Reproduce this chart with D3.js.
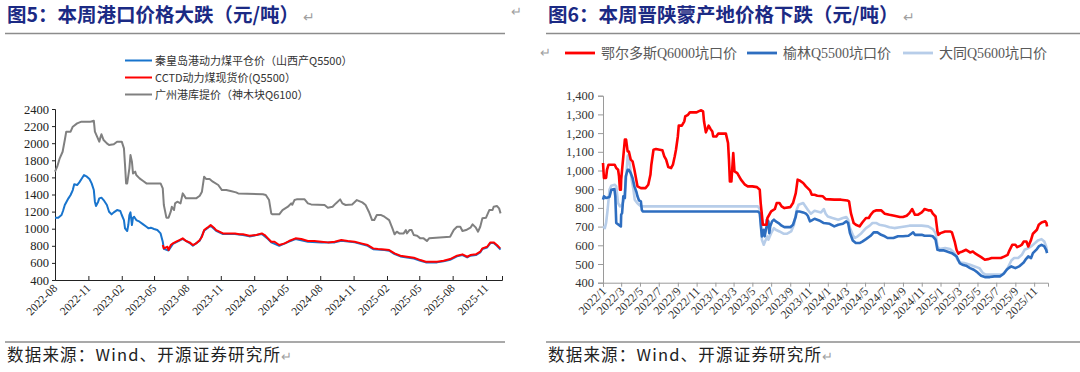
<!DOCTYPE html>
<html>
<head>
<meta charset="utf-8">
<script src="https://cdn.jsdelivr.net/npm/d3@7/dist/d3.min.js"></script>
<style>
body { margin: 0; background: #fff; }
</style>
</head>
<body>
<svg id="chart" width="1080" height="372"></svg>
<script>
// ---- 图5 数据 ----
var portTicks = ["2022-08","2022-11","2023-02","2023-05","2023-08","2023-11","2024-02","2024-05","2024-08","2024-11","2025-02","2025-05","2025-08","2025-11"];
var portYTicks = [400,600,800,1000,1200,1400,1600,1800,2000,2200,2400];
var portNames = ["秦皇岛港动力煤平仓价（山西产Q5500）", "CCTD动力煤现货价(Q5500）", "广州港库提价（神木块Q6100）"];

var guangzhou = [
  ["2022-08-01",1667],["2022-08-07",1725],["2022-08-14",1823],["2022-08-22",1900],["2022-08-28",2037],["2022-09-01",2135],
  ["2022-09-13",2135],["2022-09-19",2193],["2022-10-01",2232],["2022-10-13",2252],["2022-11-07",2252],["2022-11-16",2263],
  ["2022-11-19",2135],["2022-11-25",2076],["2022-12-01",2018],["2022-12-04",2065],["2022-12-07",2104],["2022-12-13",2037],
  ["2022-12-22",1998],["2022-12-28",1979],["2023-01-10",1987],["2023-01-19",2018],["2023-02-01",2018],["2023-02-07",1940],
  ["2023-02-10",1745],["2023-02-13",1530],["2023-02-16",1530],["2023-02-22",1706],["2023-02-25",1862],["2023-03-01",1784],
  ["2023-03-04",1647],["2023-03-10",1667],["2023-03-13",1628],["2023-03-22",1589],["2023-04-01",1558],["2023-04-10",1530],
  ["2023-05-19",1530],["2023-05-25",1472],["2023-05-28",1277],["2023-06-04",1129],["2023-06-10",1129],["2023-06-16",1199],
  ["2023-06-19",1257],["2023-06-25",1218],["2023-06-28",1296],["2023-07-04",1316],["2023-07-13",1296],["2023-07-19",1413],
  ["2023-07-28",1355],["2023-08-25",1355],["2023-09-04",1386],["2023-09-10",1433],["2023-09-16",1608],["2023-09-22",1580],
  ["2023-10-01",1581],["2023-10-10",1550],["2023-10-25",1511],["2023-11-04",1452],["2023-11-16",1452],["2023-11-28",1440],
  ["2023-12-13",1425],["2023-12-19",1413],["2024-02-25",1402],["2024-03-04",1394],["2024-03-13",1335],["2024-03-19",1179],
  ["2024-03-22",1168],["2024-04-10",1168],["2024-04-19",1218],["2024-05-04",1257],["2024-05-13",1296],["2024-05-16",1280],
  ["2024-05-22",1335],["2024-05-28",1343],["2024-06-19",1343],["2024-06-28",1296],["2024-07-07",1284],["2024-08-13",1277],
  ["2024-08-22",1246],["2024-09-04",1257],["2024-09-13",1296],["2024-09-25",1343],["2024-10-01",1296],["2024-10-10",1277],
  ["2024-10-28",1284],["2024-11-10",1335],["2024-11-25",1308],["2024-12-04",1277],["2024-12-13",1199],["2024-12-22",1101],
  ["2024-12-28",1101],["2025-01-04",1160],["2025-01-16",1160],["2025-01-25",1140],["2025-02-07",1101],["2025-02-16",1004],
  ["2025-02-22",934],["2025-02-28",965],["2025-03-07",945],["2025-03-19",945],["2025-03-25",984],["2025-03-28",945],
  ["2025-04-04",984],["2025-04-10",984],["2025-04-16",926],["2025-04-25",918],["2025-05-04",887],["2025-05-13",887],
  ["2025-05-22",856],["2025-05-28",887],["2025-07-25",906],["2025-08-04",984],["2025-08-13",1023],["2025-08-22",1023],
  ["2025-08-28",973],["2025-09-07",984],["2025-09-19",1012],["2025-09-25",1051],["2025-10-04",1012],["2025-10-10",965],
  ["2025-10-16",1023],["2025-10-22",1121],["2025-11-01",1129],["2025-11-10",1218],["2025-11-19",1218],["2025-11-22",1257],
  ["2025-12-01",1265],["2025-12-07",1238],["2025-12-11",1179]
];

var qinhuangdao = [
  ["2022-08-01",1129],["2022-08-10",1129],["2022-08-19",1160],["2022-08-23",1207],["2022-08-28",1277],["2022-09-07",1355],
  ["2022-09-13",1394],["2022-09-19",1452],["2022-09-23",1519],["2022-10-01",1511],["2022-10-07",1542],["2022-10-13",1581],
  ["2022-10-20",1628],["2022-10-28",1608],["2022-11-04",1581],["2022-11-10",1530],["2022-11-16",1452],["2022-11-19",1316],
  ["2022-11-22",1265],["2022-11-28",1316],["2022-12-01",1355],["2022-12-07",1363],["2022-12-13",1335],["2022-12-22",1277],
  ["2022-12-28",1199],["2023-01-04",1168],["2023-01-10",1191],["2023-01-19",1218],["2023-01-28",1207],["2023-02-01",1160],
  ["2023-02-07",1101],["2023-02-10",1004],["2023-02-16",973],["2023-02-19",1043],["2023-02-22",1160],["2023-02-25",1191],
  ["2023-02-28",1082],["2023-03-01",1043],["2023-03-04",1129],["2023-03-07",1140],["2023-03-13",1101],["2023-03-22",1082],
  ["2023-04-01",1051],["2023-04-10",1023],["2023-04-16",1004],["2023-04-22",1012],["2023-05-01",996],["2023-05-10",984],
  ["2023-05-19",945],["2023-05-25",848],["2023-05-28",765],["2023-06-10",745],["2023-06-22",822],["2023-07-10",860],
  ["2023-07-19",880],["2023-08-07",832],["2023-08-16",802],["2023-09-04",860],["2023-09-16",976],["2023-10-04",1035],
  ["2023-10-19",975],["2023-11-07",938],["2023-12-10",938],["2024-01-01",926],["2024-01-19",910],["2024-02-22",938],
  ["2024-03-10",880],["2024-03-19",840],["2024-04-10",800],["2024-05-07",848],["2024-05-25",880],["2024-06-28",848],
  ["2024-08-04",840],["2024-09-10",840],["2024-09-28",860],["2024-11-04",840],["2024-12-10",800],["2024-12-25",760],
  ["2025-01-25",750],["2025-02-07",742],["2025-02-22",702],["2025-03-10",676],["2025-03-28",664],["2025-04-16",652],
  ["2025-05-04",625],["2025-05-19",606],["2025-06-19",606],["2025-07-07",618],["2025-07-25",637],["2025-08-13",676],
  ["2025-08-28",692],["2025-09-10",664],["2025-09-19",684],["2025-10-04",692],["2025-10-16",722],["2025-10-22",762],
  ["2025-11-04",780],["2025-11-13",832],["2025-11-22",832],["2025-12-01",800],["2025-12-11",755]
];

var cctd = [
  ["2023-05-25",809],["2023-05-28",770],["2023-06-07",789],["2023-06-10",750],["2023-06-16",809],["2023-06-22",828],
  ["2023-07-01",848],["2023-07-10",867],["2023-07-19",887],["2023-07-28",856],["2023-08-07",840],["2023-08-16",809],
  ["2023-08-25",828],["2023-09-04",867],["2023-09-10",906],["2023-09-16",984],["2023-09-25",1012],["2023-10-04",1043],
  ["2023-10-13",1012],["2023-10-19",984],["2023-10-28",965],["2023-11-07",945],["2023-12-10",945],["2023-12-22",934],
  ["2024-01-01",934],["2024-01-19",918],["2024-02-07",926],["2024-02-22",945],["2024-03-01",926],["2024-03-10",887],
  ["2024-03-19",848],["2024-03-28",848],["2024-04-10",809],["2024-04-25",828],["2024-05-07",856],["2024-05-25",887],
  ["2024-06-10",879],["2024-06-28",856],["2024-07-16",856],["2024-08-04",848],["2024-08-22",840],["2024-09-10",848],
  ["2024-09-28",867],["2024-10-16",856],["2024-11-04",848],["2024-11-22",828],["2024-12-10",809],["2024-12-25",770],
  ["2025-01-07",762],["2025-01-25",758],["2025-02-07",750],["2025-02-22",711],["2025-03-10",684],["2025-03-28",672],
  ["2025-04-16",661],["2025-05-04",633],["2025-05-19",614],["2025-06-19",614],["2025-07-07",626],["2025-07-25",645],
  ["2025-08-13",684],["2025-08-28",700],["2025-09-10",672],["2025-09-19",692],["2025-10-04",700],["2025-10-16",731],
  ["2025-10-22",770],["2025-11-04",789],["2025-11-13",840],["2025-11-22",840],["2025-12-01",809],["2025-12-10",770]
];

// ---- 图6 数据 ----
var mineTicks = ["2022/1","2022/3","2022/5","2022/7","2022/9","2022/11","2023/1","2023/3","2023/5","2023/7","2023/9","2023/11",
  "2024/1","2024/3","2024/5","2024/7","2024/9","2024/11","2025/1","2025/3","2025/5","2025/7","2025/9","2025/11"];
var mineYTicks = [400,500,600,700,800,900,1000,1100,1200,1300,1400];
var mineNames = ["鄂尔多斯Q6000坑口价", "榆林Q5500坑口价", "大同Q5600坑口价"];

var ordos = [
  ["2022-01-01",1040],["2022-01-04",960],["2022-01-11",960],["2022-01-14",1004],["2022-01-19",1031],["2022-02-08",1031],
  ["2022-02-13",1013],["2022-02-19",1004],["2022-02-22",969],["2022-02-25",897],["2022-02-28",897],["2022-03-01",951],
  ["2022-03-08",1076],["2022-03-13",1165],["2022-03-17",1165],["2022-03-22",1102],["2022-03-26",1102],["2022-04-01",1058],
  ["2022-04-07",1049],["2022-04-13",1004],["2022-04-19",951],["2022-04-23",915],["2022-05-04",906],["2022-05-19",906],
  ["2022-05-28",924],["2022-06-04",977],["2022-06-07",1031],["2022-06-14",1111],["2022-06-22",1115],["2022-07-04",1111],
  ["2022-07-13",1108],["2022-07-19",1076],["2022-07-25",1058],["2022-08-01",1018],["2022-08-10",1013],["2022-08-16",1031],
  ["2022-08-22",1076],["2022-08-26",1111],["2022-09-01",1182],["2022-09-04",1240],["2022-09-14",1240],["2022-09-22",1263],
  ["2022-09-25",1289],["2022-10-04",1298],["2022-10-10",1311],["2022-11-01",1311],["2022-11-07",1316],["2022-11-16",1322],
  ["2022-11-22",1316],["2022-11-25",1263],["2022-12-01",1204],["2022-12-07",1227],["2022-12-10",1240],["2022-12-16",1222],
  ["2022-12-22",1209],["2022-12-25",1182],["2023-01-04",1182],["2023-01-10",1197],["2023-02-04",1197],["2023-02-11",1147],
  ["2023-02-14",1058],["2023-02-17",942],["2023-02-22",942],["2023-02-28",1093],["2023-03-04",995],["2023-03-13",986],
  ["2023-03-19",969],["2023-03-25",951],["2023-04-07",924],["2023-04-16",915],["2023-05-01",915],["2023-05-16",911],
  ["2023-05-25",897],["2023-05-28",826],["2023-06-01",763],["2023-06-04",710],["2023-06-16",710],["2023-06-19",746],
  ["2023-07-01",781],["2023-07-13",794],["2023-07-19",826],["2023-07-28",826],["2023-08-04",808],["2023-08-13",799],
  ["2023-09-01",804],["2023-09-10",826],["2023-09-19",879],["2023-09-25",951],["2023-10-01",947],["2023-10-13",933],
  ["2023-10-22",915],["2023-11-04",894],["2023-11-10",870],["2023-11-19",870],["2023-11-28",865],["2023-12-16",862],
  ["2023-12-25",847],["2024-01-22",844],["2024-02-13",844],["2024-03-04",840],["2024-03-10",835],["2024-03-16",772],
  ["2024-03-25",719],["2024-04-01",710],["2024-04-13",701],["2024-04-22",722],["2024-05-04",746],["2024-05-13",746],
  ["2024-05-19",763],["2024-05-28",781],["2024-06-07",787],["2024-06-22",787],["2024-07-04",769],["2024-07-19",763],
  ["2024-08-04",758],["2024-08-22",751],["2024-09-01",751],["2024-09-13",758],["2024-09-22",772],["2024-10-01",794],
  ["2024-10-10",763],["2024-10-19",763],["2024-11-01",776],["2024-11-07",787],["2024-11-10",794],["2024-11-22",787],
  ["2024-12-01",787],["2024-12-07",769],["2024-12-16",754],["2024-12-22",674],["2024-12-25",656],["2025-01-01",665],
  ["2025-01-16",674],["2025-02-01",674],["2025-02-07",669],["2025-02-16",620],["2025-02-22",576],["2025-02-28",555],
  ["2025-03-04",562],["2025-03-13",567],["2025-03-25",576],["2025-04-07",562],["2025-04-16",567],["2025-04-22",558],
  ["2025-05-01",549],["2025-05-13",537],["2025-05-25",523],["2025-06-04",526],["2025-06-16",532],["2025-07-16",532],
  ["2025-07-28",541],["2025-08-07",549],["2025-08-13",573],["2025-08-22",603],["2025-09-01",603],["2025-09-07",590],
  ["2025-09-16",597],["2025-09-22",603],["2025-09-28",620],["2025-10-07",620],["2025-10-13",594],["2025-10-22",629],
  ["2025-10-28",662],["2025-11-10",683],["2025-11-16",710],["2025-11-25",722],["2025-12-07",728],["2025-12-11",719],
  ["2025-12-13",701]
];

var yulin = [
  ["2022-01-01",844],["2022-01-04",862],["2022-01-11",853],["2022-01-22",858],["2022-01-28",897],["2022-02-07",901],
  ["2022-02-10",862],["2022-02-13",719],["2022-02-28",701],["2022-03-01",764],["2022-03-04",772],["2022-03-08",862],
  ["2022-03-13",853],["2022-03-16",969],["2022-03-22",1004],["2022-03-26",1004],["2022-04-01",986],["2022-04-07",960],
  ["2022-04-13",915],["2022-04-19",888],["2022-04-23",862],["2022-04-28",840],["2022-05-04",835],["2022-05-07",790],
  ["2022-05-10",781],["2023-05-19",781],["2023-05-25",772],["2023-05-28",719],["2023-06-01",648],["2023-06-07",683],
  ["2023-06-10",648],["2023-06-16",701],["2023-06-17",737],["2023-06-22",728],["2023-06-25",665],["2023-06-28",701],
  ["2023-07-04",728],["2023-07-10",737],["2023-07-16",728],["2023-07-25",719],["2023-08-04",705],["2023-08-13",697],
  ["2023-09-01",697],["2023-09-10",710],["2023-09-19",754],["2023-09-22",781],["2023-10-01",781],["2023-10-13",776],
  ["2023-10-22",769],["2023-10-28",758],["2023-11-04",728],["2023-11-10",733],["2023-11-19",742],["2023-12-04",733],
  ["2023-12-19",719],["2024-01-07",715],["2024-01-22",701],["2024-02-04",710],["2024-02-19",715],["2024-03-01",728],
  ["2024-03-07",719],["2024-03-13",665],["2024-03-22",626],["2024-04-01",612],["2024-04-13",612],["2024-04-22",620],
  ["2024-05-04",633],["2024-05-19",651],["2024-05-29",669],["2024-06-10",669],["2024-06-22",656],["2024-07-04",648],
  ["2024-07-13",639],["2024-08-01",639],["2024-08-16",648],["2024-09-01",648],["2024-09-19",651],["2024-09-28",662],
  ["2024-10-04",669],["2024-10-10",656],["2024-11-01",656],["2024-11-10",651],["2024-11-28",651],["2024-12-07",648],
  ["2024-12-16",630],["2024-12-22",576],["2024-12-28",573],["2025-01-10",573],["2025-01-22",567],["2025-02-07",558],
  ["2025-02-22",541],["2025-03-04",505],["2025-03-13",496],["2025-03-25",491],["2025-04-07",478],["2025-04-19",469],
  ["2025-05-01",455],["2025-05-13",437],["2025-05-25",430],["2025-06-10",430],["2025-06-25",434],["2025-07-13",434],
  ["2025-07-25",448],["2025-08-04",469],["2025-08-10",478],["2025-08-19",487],["2025-09-01",478],["2025-09-13",487],
  ["2025-09-28",508],["2025-10-04",523],["2025-10-13",541],["2025-10-22",532],["2025-10-28",558],["2025-11-10",580],
  ["2025-11-16",594],["2025-11-25",603],["2025-12-04",594],["2025-12-10",576],["2025-12-13",558]
];

var datong = [
  ["2022-01-01",701],["2022-01-07",692],["2022-01-11",719],["2022-01-16",790],["2022-01-22",897],["2022-01-28",919],
  ["2022-02-08",924],["2022-02-13",915],["2022-02-19",826],["2022-02-25",808],["2022-03-04",817],["2022-03-10",844],
  ["2022-03-16",933],["2022-03-22",1076],["2022-03-25",1084],["2022-03-29",1031],["2022-04-04",951],["2022-04-10",897],
  ["2022-04-14",844],["2022-04-22",826],["2022-04-28",817],["2022-05-04",808],["2023-05-19",808],["2023-05-25",794],
  ["2023-05-28",719],["2023-06-01",630],["2023-06-07",603],["2023-06-11",620],["2023-06-19",648],["2023-06-22",630],
  ["2023-07-01",665],["2023-07-10",692],["2023-07-16",683],["2023-07-28",674],["2023-08-10",662],["2023-08-22",662],
  ["2023-09-04",674],["2023-09-13",710],["2023-09-22",790],["2023-09-28",817],["2023-10-13",826],["2023-10-19",812],
  ["2023-10-28",790],["2023-11-07",769],["2023-11-19",785],["2023-11-28",781],["2023-12-10",776],["2023-12-19",794],
  ["2023-12-25",769],["2024-01-01",754],["2024-01-16",746],["2024-02-04",737],["2024-02-19",746],["2024-03-01",751],
  ["2024-03-07",737],["2024-03-13",692],["2024-03-22",656],["2024-03-28",639],["2024-04-07",648],["2024-04-19",665],
  ["2024-05-04",692],["2024-05-16",705],["2024-05-25",719],["2024-06-07",719],["2024-06-16",710],["2024-07-04",705],
  ["2024-07-19",697],["2024-08-04",692],["2024-08-22",697],["2024-09-07",701],["2024-09-22",705],["2024-11-01",705],
  ["2024-11-22",701],["2024-12-07",687],["2024-12-16",665],["2024-12-22",594],["2024-12-28",580],["2025-01-16",585],
  ["2025-02-01",580],["2025-02-16",558],["2025-02-25",523],["2025-03-07",508],["2025-03-19",505],["2025-04-07",496],
  ["2025-04-22",487],["2025-05-07",478],["2025-05-19",451],["2025-05-28",443],["2025-07-19",443],["2025-07-28",455],
  ["2025-08-07",478],["2025-08-19",519],["2025-08-28",532],["2025-09-10",532],["2025-09-22",549],["2025-10-01",576],
  ["2025-10-13",585],["2025-10-22",594],["2025-11-04",612],["2025-11-13",626],["2025-11-25",633],["2025-12-04",620],
  ["2025-12-10",594],["2025-12-13",567]
];

var parseDay = d3.timeParse("%Y-%m-%d");
var svg = d3.select("#chart");
var titleColor = "#1b2a84";
var serif = "'Liberation Serif', 'Times New Roman', serif";
var cjk = "'Noto Sans CJK SC', sans-serif";

var drawLine = function(g, data, x, y, color, width) {
  g.append('path')
    .datum(data)
    .attr('fill', 'none')
    .attr('stroke', color)
    .attr('stroke-width', width)
    .attr('stroke-linejoin', 'round')
    .attr('d', d3.line()
      .x(function(d) { return x(parseDay(d[0])); })
      .y(function(d) { return y(d[1]); }));
}

var drawFrame = function(x0, x1, title, titleX) {
  svg.append('text')
    .attr('x', titleX).attr('y', 22)
    .attr('font-family', cjk).attr('font-weight', 'bold').attr('font-size', '19.5px')
    .attr('fill', titleColor)
    .text(title)
    .append('tspan').attr('fill', '#a0a0a0').attr('font-weight', 'normal').attr('font-size', '14px').attr('dx', 4).text('↵');
  svg.append('line').attr('x1', x0).attr('x2', x1).attr('y1', 33.5).attr('y2', 33.5)
    .attr('stroke', '#8c8c8c').attr('stroke-width', 1.6);
  svg.append('line').attr('x1', x0).attr('x2', x1).attr('y1', 342).attr('y2', 342)
    .attr('stroke', '#8c8c8c').attr('stroke-width', 1.6);
  svg.append('text')
    .attr('x', titleX).attr('y', 361)
    .attr('font-family', cjk).attr('font-size', '16.5px').attr('letter-spacing', '1.2px').attr('fill', '#222')
    .text('数据来源：Wind、开源证券研究所')
    .append('tspan').attr('fill', '#a0a0a0').attr('font-size', '13px').attr('letter-spacing', '0').text('↵');
}

// ================= 图5 =================
drawFrame(5, 505, '图5：本周港口价格大跌（元/吨）', 7);
svg.append('text').attr('x', 511).attr('y', 16).attr('fill', '#a0a0a0').attr('font-size', '13px').text('↵');

var xL = d3.scaleTime().domain([parseDay("2022-08-01"), parseDay("2025-12-15")]).range([55, 502]);
var yL = d3.scaleLinear().domain([400, 2400]).range([280, 109]);
var gL = svg.append('g');

gL.append('g')
  .attr('transform', 'translate(55,0)')
  .call(d3.axisLeft(yL).tickValues(portYTicks).tickFormat(d3.format('d')).tickSize(3).tickPadding(3))
  .call(function(g) {
    g.selectAll('text').attr('font-family', serif).attr('font-size', '12.5px').attr('fill', '#222');
    g.selectAll('line, path').attr('stroke', '#222');
  });

var portTickDates = portTicks.map(function(t) { return d3.timeParse("%Y-%m")(t); });
gL.append('g')
  .attr('transform', 'translate(0,280)')
  .call(d3.axisBottom(xL).tickValues(portTickDates).tickSize(-4).tickFormat(''))
  .call(function(g) { g.selectAll('line, path').attr('stroke', '#222'); });

gL.selectAll('.xlab').data(portTicks).enter().append('text')
  .attr('transform', function(d, i) { return 'translate(' + (xL(portTickDates[i]) + 3) + ',289) rotate(-45)'; })
  .attr('text-anchor', 'end')
  .attr('font-family', serif).attr('font-size', '11.5px').attr('fill', '#222')
  .text(function(d) { return d; });

drawLine(gL, guangzhou, xL, yL, '#808080', 2);
drawLine(gL, qinhuangdao, xL, yL, '#1874cd', 2);
drawLine(gL, cctd, xL, yL, '#ff0000', 2);

var portColors = ['#1874cd', '#ff0000', '#808080'];
portNames.forEach(function(name, i) {
  var ly = 60.5 + i * 17;
  gL.append('line').attr('x1', 125).attr('x2', 152).attr('y1', ly).attr('y2', ly)
    .attr('stroke', portColors[i]).attr('stroke-width', 2);
  gL.append('text').attr('x', 155).attr('y', ly + 4)
    .attr('font-family', cjk).attr('font-size', '11px').attr('fill', '#333')
    .text(name);
});

// ================= 图6 =================
drawFrame(546, 1080, '图6：本周晋陕蒙产地价格下跌（元/吨）', 548);

var xR = d3.scaleTime().domain([parseDay("2022-01-01"), parseDay("2025-12-16")]).range([603, 1048]);
var yR = d3.scaleLinear().domain([400, 1400]).range([282.7, 95.7]);
var gR = svg.append('g');

gR.append('g')
  .attr('transform', 'translate(603,0)')
  .call(d3.axisLeft(yR).tickValues(mineYTicks).tickFormat(d3.format(',')).tickSize(5).tickPadding(4))
  .call(function(g) {
    g.selectAll('text').attr('font-family', serif).attr('font-size', '12.5px').attr('fill', '#333');
    g.selectAll('line, path').attr('stroke', '#9a9a9a');
  });

var mineTickDates = mineTicks.map(function(t) {
  var p = t.split('/');
  return new Date(+p[0], +p[1] - 1, 1);
});
gR.append('g')
  .attr('transform', 'translate(0,282.7)')
  .call(d3.axisBottom(xR).tickValues(mineTickDates).tickSize(4).tickFormat(''))
  .call(function(g) { g.selectAll('line, path').attr('stroke', '#9a9a9a'); });

gR.selectAll('.xlab').data(mineTicks).enter().append('text')
  .attr('transform', function(d, i) { return 'translate(' + (xR(mineTickDates[i]) + 4) + ',292) rotate(-45)'; })
  .attr('text-anchor', 'end')
  .attr('font-family', serif).attr('font-size', '12px').attr('fill', '#333')
  .text(function(d) { return d; });

drawLine(gR, datong, xR, yR, '#b7cde9', 2.6);
drawLine(gR, yulin, xR, yR, '#2e6ec0', 2.6);
drawLine(gR, ordos, xR, yR, '#ff0000', 2.6);

var mineColors = ['#ff0000', '#2e6ec0', '#b7cde9'];
var mineLegX = [565, 747, 903];
gR.append('text').attr('x', 540).attr('y', 57).attr('fill', '#a0a0a0').attr('font-size', '13px').text('↵');
mineNames.forEach(function(name, i) {
  gR.append('line').attr('x1', mineLegX[i]).attr('x2', mineLegX[i] + 30).attr('y1', 53).attr('y2', 53)
    .attr('stroke', mineColors[i]).attr('stroke-width', 2.8);
  gR.append('text').attr('x', mineLegX[i] + 36).attr('y', 58)
    .attr('font-family', serif + ", 'Noto Sans CJK SC'").attr('font-size', '14px').attr('fill', '#595959')
    .text(name);
});
</script>
</body>
</html>
